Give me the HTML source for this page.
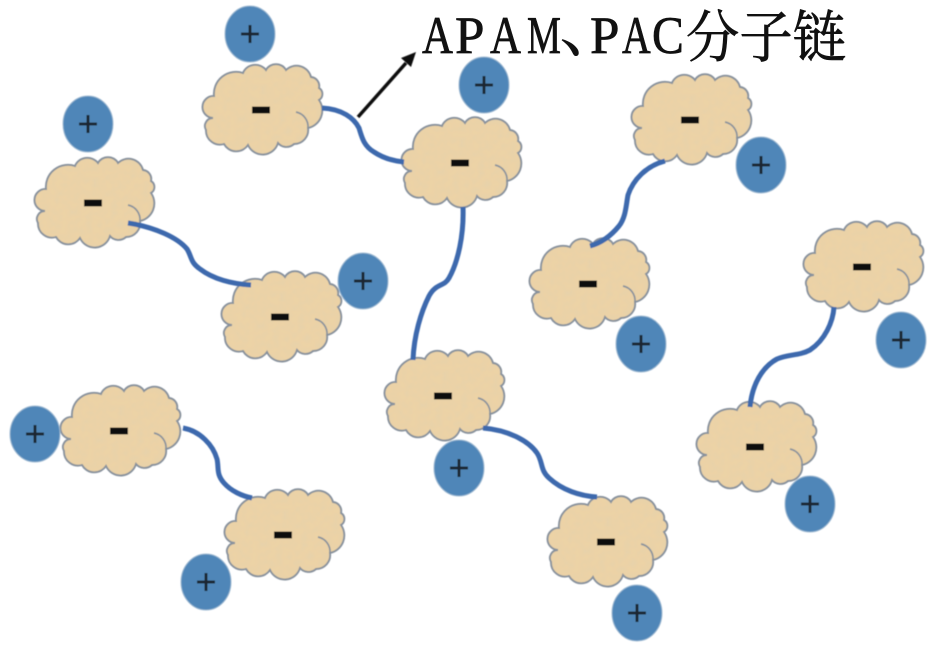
<!DOCTYPE html>
<html><head><meta charset="utf-8"><style>html,body{margin:0;padding:0;background:#fff}svg{display:block}</style></head>
<body>
<svg width="945" height="655" viewBox="0 0 945 655" xmlns="http://www.w3.org/2000/svg">
<defs>
<filter id="s" x="-5%" y="-5%" width="110%" height="110%"><feGaussianBlur stdDeviation="0.6"/></filter>
<filter id="t" x="0" y="0" width="100%" height="100%">
<feTurbulence type="fractalNoise" baseFrequency="0.16" numOctaves="2" seed="4"/>
<feColorMatrix values="0 0 0 0 0.80  0 0 0 0 0.64  0 0 0 0 0.40  2.2 0 0 0 -0.85"/>
<feComposite in2="SourceAlpha" operator="in"/>
<feMerge><feMergeNode in="SourceGraphic"/><feMergeNode/></feMerge>
</filter>
<path id="o" d="M-47,-14 A22,22 0 0 1 -18,-37 A13,12 0 0 1 5,-40 A11,10 0 0 1 25,-40 A15,15 0 0 1 50,-33 A9,9 0 0 1 58,-22 A7,7 0 0 1 58,-10 A18,18 0 0 1 47,18 A14,14 0 0 1 33,34 A11,11 0 0 1 17,33 A16,16 0 0 1 -13,35 A14,14 0 0 1 -37,34 A14,14 0 0 1 -55,20 A8,8 0 0 1 -48,8 A11,11 0 0 1 -47,-14 Z"/>
<g id="c">
<use href="#o" filter="url(#t)" fill="#ecd3a6"/>
<use href="#o" fill="none" stroke="#87919c" stroke-width="1.9"/>
<path d="M35,2 A15,15 0 0 1 47,18" fill="none" stroke="#87919c" stroke-width="1.7"/>
<rect x="-9" y="-3.5" width="18" height="7" fill="#111"/>
</g>
<g id="p">
<ellipse rx="25" ry="28" fill="#4f86b8" stroke="#9db9d2" stroke-width="1"/>
<path d="M-9,0 H9 M0,-9 V9" stroke="#1c2530" stroke-width="3" fill="none"/>
</g>
</defs>
<g filter="url(#s)">
<use href="#c" x="261" y="110"/><use href="#c" x="460" y="163"/><use href="#c" x="690" y="120"/>
<use href="#c" x="93" y="203"/><use href="#c" x="280" y="317"/><use href="#c" x="588" y="284"/>
<use href="#c" x="862" y="267"/><use href="#c" x="443" y="396"/><use href="#c" x="755" y="447"/>
<use href="#c" x="119" y="431"/><use href="#c" x="283" y="535"/><use href="#c" x="606" y="542"/>
<g fill="none" stroke="#3d69ad" stroke-width="5">
<path d="M322,108 C342,109 354,118 359,128 C362,138 364,146 374,152 C383,158 393,161 404,162"/>
<path d="M463,207 C464,235 458,262 449,278 C444,287 436,283 429,296 C421,312 414,335 413,360"/>
<path d="M483,428 C507,430 528,440 537,453 C543,462 540,470 549,478 C562,490 580,496 597,497"/>
<path d="M128,223 C155,227 178,238 187,249 C192,257 190,262 200,269 C213,279 232,284 251,285"/>
<path d="M665,161 C646,166 633,180 628,195 C626,205 626,217 619,226 C610,237 601,243 590,246"/>
<path d="M834,307 C833,322 825,340 810,350 C799,356 788,354 777,359 C762,367 752,385 750,407"/>
<path d="M183,428 C200,431 213,445 217,459 C219,468 216,474 224,483 C231,491 242,496 252,498"/>
</g>
<path d="M358,117 L406,63" stroke="#111" stroke-width="3.5" fill="none"/>
<path d="M416,52 L411,67 L401,58 Z" fill="#111"/>
<use href="#p" x="250" y="34"/><use href="#p" x="484" y="85"/><use href="#p" x="761" y="165"/>
<use href="#p" x="88" y="124"/><use href="#p" x="363" y="281"/><use href="#p" x="641" y="344"/>
<use href="#p" x="901" y="340"/><use href="#p" x="35" y="434"/><use href="#p" x="459" y="468"/>
<use href="#p" x="810" y="504"/><use href="#p" x="206" y="582"/><use href="#p" x="637" y="613"/>
</g>
<g fill="#111" stroke="#111" stroke-width="0.7" font-family="'Liberation Serif','Noto Serif CJK SC',serif" font-size="53">
<text transform="translate(422,53) scale(.81,1)">A</text>
<text transform="translate(455,53) scale(1,1)">P</text>
<text transform="translate(490,53) scale(.81,1)">A</text>
<text transform="translate(527,53) scale(.72,1)">M</text>
<text x="559" y="51" font-size="68" stroke="none" font-family="'Noto Serif CJK SC',serif">、</text>
<text transform="translate(590,53) scale(1,1)">P</text>
<text transform="translate(622,53) scale(.75,1)">A</text>
<text transform="translate(652,53) scale(.9,1)">C</text>
<text x="686" y="57" font-size="56" textLength="160" lengthAdjust="spacingAndGlyphs" font-family="'Noto Serif CJK SC',serif">分子链</text>
</g>
</svg>
</body></html>
